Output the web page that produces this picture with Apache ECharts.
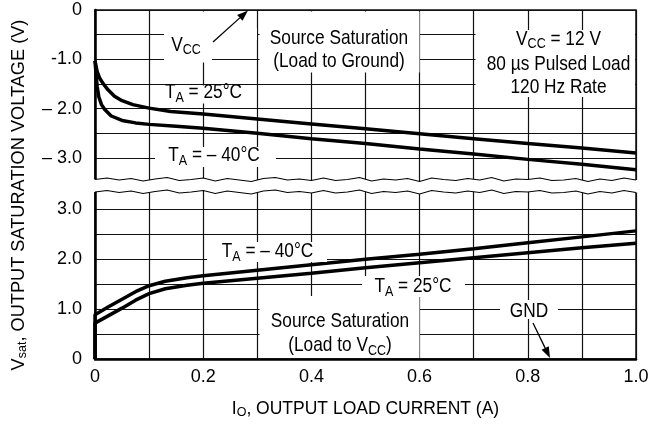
<!DOCTYPE html>
<html><head><meta charset="utf-8">
<script src="https://cdn.jsdelivr.net/npm/echarts@6/dist/echarts.min.js"></script>
<style>html,body{margin:0;padding:0;background:#fff}#c{width:662px;height:427px}</style>
</head><body><div id="c"></div>
<script>
// ---- data ----
const top25Current  = [0, 0.004, 0.009, 0.015, 0.024, 0.036, 0.05, 0.07, 0.1, 0.14, 0.2, 0.3, 0.4, 0.5, 0.6, 0.7, 0.8, 0.9, 1.0];
const top25Volt     = [-1.03, -1.25, -1.39, -1.49, -1.62, -1.75, -1.84, -1.92, -1.99, -2.06, -2.11, -2.21, -2.31, -2.41, -2.51, -2.61, -2.71, -2.80, -2.90];
const topM40Current = [0, 0.002, 0.004, 0.007, 0.012, 0.018, 0.03, 0.05, 0.075, 0.1, 0.15, 0.2, 0.3, 0.4, 0.5, 0.6, 0.7, 0.8, 0.9, 1.0];
const topM40Volt    = [-1.03, -1.3, -1.55, -1.76, -1.92, -2.02, -2.15, -2.24, -2.29, -2.32, -2.36, -2.40, -2.50, -2.61, -2.71, -2.82, -2.92, -3.03, -3.13, -3.24];
const botM40Current = [0, 0, 0.025, 0.05, 0.075, 0.1, 0.13, 0.17, 0.2, 0.3, 0.4, 0.5, 0.6, 0.7, 0.8, 0.9, 1.0];
const botM40Volt    = [0, 0.89, 1.05, 1.2, 1.35, 1.47, 1.56, 1.63, 1.67, 1.78, 1.89, 2.0, 2.1, 2.21, 2.33, 2.45, 2.57];
const bot25Current  = [0, 0, 0.025, 0.05, 0.075, 0.1, 0.13, 0.17, 0.2, 0.3, 0.4, 0.5, 0.6, 0.7, 0.8, 0.9, 1.0];
const bot25Volt     = [0, 0.72, 0.87, 1.02, 1.18, 1.31, 1.41, 1.48, 1.52, 1.62, 1.72, 1.83, 1.93, 2.03, 2.13, 2.23, 2.32];
const xTickValues   = [0, 0.2, 0.4, 0.6, 0.8, 1.0];
const xTickLabels   = ['0', '0.2', '0.4', '0.6', '0.8', '1.0'];
const topTickValues = [0, -1, -2, -3];
const topTickLabels = ['0', '-1.0', '– 2.0', '– 3.0'];
const botTickValues = [3, 2, 1, 0];
const botTickLabels = ['3.0', '2.0', '1.0', '0'];

function pairs(xs, ys) { return xs.map((x, i) => [x, ys[i]]); }
function lookup(vals, labels, v) {
  for (let i = 0; i < vals.length; i++) if (Math.abs(vals[i] - v) < 1e-6) return labels[i];
  return '';
}

const FF = '"Liberation Sans", Arial, Helvetica, sans-serif';
const FS = 17.3;     // annotation font
const FT = 18;       // tick label font
const FN = 17.5;     // x axis title font
const FY = 18.2;     // y axis title font
const SS = 12.5;     // subscript font
const D = 4;         // subscript drop
const SY = 1.17;     // vertical stretch of the reference lettering

function richFor(fs, colorKey) {
  const n = { fontSize: fs, fontFamily: FF, lineHeight: fs, verticalAlign: 'top' };
  const s = { fontSize: SS, fontFamily: FF, lineHeight: fs + 2 * D, verticalAlign: 'middle' };
  n[colorKey] = '#000'; s[colorKey] = '#000';
  return { n: n, s: s };
}
const RICH = richFor(FS, 'fill');
const RICH_Y = richFor(FY, 'fill');
const RICH_AX = richFor(FN, 'color');

// layout
const PL = 95, PR = 26;
const TOP_Y0 = 10, TOP_PX = 49.3;
const BOT_Y0 = 359, BOT_PX = 49.85;

function txt(x, y, text, rich) {
  return {
    type: 'text', z: 130, x: x, y: y + (rich ? D * SY : 0), scaleY: SY,
    style: { text: text, fill: '#000', font: FS + 'px ' + FF, textAlign: 'center', textVerticalAlign: 'middle', rich: RICH }
  };
}
function box(x, y, w, h) {
  return { type: 'rect', z: 110, shape: { x: x, y: y, width: w, height: h }, style: { fill: '#fff' } };
}
function arrow(x1, y1, x2, y2, len, half) {
  const dx = x2 - x1, dy = y2 - y1, L = Math.hypot(dx, dy), ux = dx / L, uy = dy / L;
  const bx = x2 - ux * len, by = y2 - uy * len;
  return [
    { type: 'line', z: 125, shape: { x1: x1, y1: y1, x2: bx, y2: by }, style: { stroke: '#000', lineWidth: 1.3 } },
    { type: 'polygon', z: 125, shape: { points: [[x2, y2], [bx - uy * half, by + ux * half], [bx + uy * half, by - ux * half]] }, style: { fill: '#000' } }
  ];
}
// axis break decoration
const waveOff = [0,-1.5,0.5,-1,1.5,-0.5,-2,1,0,-1.5,1.5,-1,0.5,2,-1,-2,0.5,-0.5,1,-1.5,1,0,-2,1.5,-0.5,0.5,-1,2,-1.5,0,1,-1,0.5,-2,1.5,-0.5,0,-1.5,1,0.5,-1,2,-0.5,1,-1.5,0.5];
function breakGraphics() {
  const x0 = PL, x1 = 662 - PR, n = waveOff.length, step = (x1 - x0) / (n - 1);
  const up = [], lo = [];
  for (let i = 0; i < n; i++) { up.push([x0 + i * step, 179.5 + waveOff[i]]); lo.push([x0 + i * step, 192 + waveOff[i]]); }
  const poly = [[x0 - 3, up[0][1]]].concat(up, [[x1 + 3, up[n - 1][1]], [x1 + 3, lo[n - 1][1]]], lo.slice().reverse(), [[x0 - 3, lo[0][1]]]);
  return [
    { type: 'polygon', z: 100, shape: { points: poly }, style: { fill: '#fff' } },
    { type: 'polyline', z: 101, shape: { points: up }, style: { stroke: '#000', lineWidth: 1.2, fill: null } },
    { type: 'polyline', z: 101, shape: { points: lo }, style: { stroke: '#000', lineWidth: 1.2, fill: null } }
  ];
}

const splitStyle = { show: true, lineStyle: { color: '#111', width: 1.2 } };
const labelStyle = { color: '#000', fontFamily: FF, fontSize: FT };
const lineSeries = (xi, yi, data) => ({
  type: 'line', xAxisIndex: xi, yAxisIndex: yi, data: data, symbol: 'none', showSymbol: false,
  lineStyle: { color: '#000', width: 3.5 }, z: 5, clip: true
});

const chart = echarts.init(document.getElementById('c'), null, { renderer: 'canvas' });
const option = {
  animation: false,
  backgroundColor: '#fff',
  grid: [
    { left: PL, right: PR, top: TOP_Y0, height: 3.5 * TOP_PX, show: true, borderColor: '#111', borderWidth: 1.5 },
    { left: PL, right: PR, top: BOT_Y0 - 3.5 * BOT_PX, height: 3.5 * BOT_PX, show: true, borderColor: '#111', borderWidth: 1.5 }
  ],
  xAxis: [
    { gridIndex: 0, type: 'value', min: 0, max: 1, interval: 0.1,
      axisLine: { show: false }, axisTick: { show: false }, axisLabel: { show: false }, splitLine: splitStyle },
    { gridIndex: 1, type: 'value', min: 0, max: 1, interval: 0.1,
      axisLine: { show: true, onZero: false, lineStyle: { color: '#000', width: 2.5 } },
      axisTick: { show: false },
      axisLabel: Object.assign({ margin: 9, formatter: v => lookup(xTickValues, xTickLabels, v) }, labelStyle),
      splitLine: splitStyle,
      name: '{n|I}{s|O}{n|, OUTPUT LOAD CURRENT (A)}',
      nameLocation: 'middle', nameGap: 409 - BOT_Y0 - FN / 2,
      nameTextStyle: { rich: RICH_AX, color: '#000' } }
  ],
  yAxis: [
    { gridIndex: 0, type: 'value', min: -3.5, max: 0, interval: 0.5,
      axisLine: { show: true, onZero: false, lineStyle: { color: '#000', width: 2.5 } },
      axisTick: { show: false },
      axisLabel: Object.assign({ margin: 13, formatter: v => lookup(topTickValues, topTickLabels, v) }, labelStyle),
      splitLine: splitStyle },
    { gridIndex: 1, type: 'value', min: 0, max: 3.5, interval: 0.5,
      axisLine: { show: true, onZero: false, lineStyle: { color: '#000', width: 2.5 } },
      axisTick: { show: false },
      axisLabel: Object.assign({ margin: 13, formatter: v => lookup(botTickValues, botTickLabels, v) }, labelStyle),
      splitLine: splitStyle }
  ],
  series: [
    lineSeries(0, 0, pairs(top25Current, top25Volt)),
    lineSeries(0, 0, pairs(topM40Current, topM40Volt)),
    lineSeries(1, 1, pairs(botM40Current, botM40Volt)),
    lineSeries(1, 1, pairs(bot25Current, bot25Volt))
  ],
  graphic: [].concat(
    breakGraphics(),
    [
      box(164, 11.5, 48, 51), box(212, 28, 45, 12),
      box(259.5, 11.5, 160, 61),
      box(475.5, 30, 159.5, 67),
      box(160, 85.5, 88, 18),
      box(155, 147, 121, 20),
      box(207, 242, 120, 20),
      box(362, 276, 103, 21),
      box(259.5, 296, 160, 62),
      box(500, 300, 58, 19)
    ],
    arrow(213, 42, 248, 10.5, 11, 4),
    arrow(533, 323, 550, 358, 11, 4),
    [
      txt(186, 45.5, '{n|V}{s|CC}', true),
      txt(339, 38, 'Source Saturation'),
      txt(339, 61.5, '(Load to Ground)'),
      txt(558.5, 39.5, '{n|V}{s|CC}{n| = 12 V}', true),
      txt(558.5, 64, '80 µs Pulsed Load'),
      txt(558.5, 87, '120 Hz Rate'),
      txt(203.5, 93, '{n|T}{s|A}{n| = 25°C}', true),
      txt(214, 156, '{n|T}{s|A}{n| = – 40°C}', true),
      txt(267.5, 252, '{n|T}{s|A}{n| = – 40°C}', true),
      txt(413, 287, '{n|T}{s|A}{n| = 25°C}', true),
      txt(340, 321, 'Source Saturation'),
      txt(340, 346, '{n|(Load to V}{s|CC}{n|)}', true),
      txt(529, 311, 'GND'),
      { type: 'text', z: 130, x: 19 + D, y: 195, rotation: Math.PI / 2,
        style: { text: '{n|V}{s|sat}{n|, OUTPUT SATURATION VOLTAGE (V)}', fill: '#000', font: FY + 'px ' + FF,
                 textAlign: 'center', textVerticalAlign: 'middle', rich: RICH_Y } }
    ]
  )
};
chart.setOption(option);
</script>
</body></html>
